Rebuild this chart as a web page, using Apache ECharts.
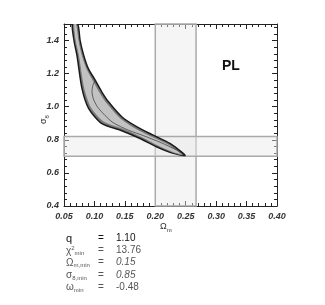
<!DOCTYPE html>
<html><head><meta charset="utf-8">
<script src="https://cdn.jsdelivr.net/npm/echarts@6/dist/echarts.min.js"></script>
<style>html,body{margin:0;padding:0;background:#fff}#c{width:325px;height:305px}</style>
</head><body><div id="c"></div>
<script>
// Outer contour (upper edge from top to tip, then lower edge back to top)
const outerOmega = [0.0725,0.0765,0.0824,0.090,0.1015,0.112,0.1234,0.1453,0.170,0.1967,0.224,0.249,
                    0.2296,0.202,0.175,0.145,0.1124,0.0906,0.0796,0.0714,0.0665,0.0637];
const outerSigma = [1.50,1.40,1.31,1.23,1.159,1.09,1.028,0.938,0.878,0.828,0.778,0.706,
                    0.718,0.758,0.808,0.855,0.898,0.989,1.109,1.309,1.40,1.50];
// Inner lighter contour
const innerOmega = [0.0705,0.0745,0.080,0.0875,0.0985,0.109,0.1205,0.1425,0.167,0.194,0.222,0.245,
                    0.229,0.203,0.177,0.147,0.115,0.0935,0.0825,0.0738,0.0685,0.066];
const innerSigma = [1.50,1.40,1.31,1.23,1.155,1.085,1.022,0.932,0.871,0.821,0.772,0.709,
                    0.723,0.765,0.815,0.864,0.908,0.996,1.112,1.31,1.40,1.50];
// Thin interior contour line
const lineOmega = [0.1015,0.0975,0.096,0.099,0.107,0.129,0.156,0.180,0.210,0.235,0.248];
const lineSigma = [1.16,1.13,1.088,1.04,0.989,0.908,0.858,0.826,0.782,0.738,0.707];
// Constraint bands
const omegaBand = [0.20, 0.267];
const sigmaBand = [0.70, 0.82];
// Axis ticks
const xMin = 0.05, xMax = 0.40, xStep = 0.05;
const yMin = 0.4, yMax = 1.5, yStep = 0.2;
// Fit results
const resultNames = ['q', 'χ{sup|2}{sub|min}', 'Ω{sub|m,min}', 'σ{sub|8,min}', 'ω{sub|min}'];
const resultValues = ['1.10', '13.76', '0.15', '0.85', '-0.48'];

const chart = echarts.init(document.getElementById('c'));
const font = 'Liberation Sans';
function poly(xs, ys){ return xs.map((x,i)=>[x, ys[i]]); }
function polyRender(pts, style, closed){
  return function(params, api){
    const points = pts.map(p => api.coord(p));
    return closed ? {type:'polygon', shape:{points, smooth:0.25}, style}
                  : {type:'polyline', shape:{points, smooth:0.25}, style};
  };
}
const axisCommon = {
  type:'value',
  axisLine:{lineStyle:{color:'#222', width:1}},
  axisTick:{inside:true, length:5, lineStyle:{color:'#222'}},
  minorTick:{show:true, splitNumber:5, length:3, lineStyle:{color:'#222'}},
  splitLine:{show:false}
};
const labelStyle = {fontFamily:font, fontSize:9, fontWeight:'bold', fontStyle:'italic', color:'#333'};

const graphics = [
  {type:'text', left:222, top:59, style:{text:'PL', font:'bold 14px "Liberation Sans"', fill:'#111'}},
  {type:'text', x:160, y:221, style:{text:'Ω{sub|m}', rich:{sub:{fontSize:6, padding:[6,0,0,0]}}, fontFamily:font, fontSize:9, fill:'#333'}},
  {type:'text', x:38, y:124, rotation:Math.PI/2, style:{text:'σ{sub|8}', rich:{sub:{fontSize:6, padding:[6,0,0,0]}}, fontFamily:font, fontSize:9, fill:'#333'}}
];
const rich = {sup:{fontSize:6, padding:[0,0,5,0], fill:'#555'}, sub:{fontSize:6, padding:[5,0,0,0], fill:'#555'}};
resultNames.forEach((n,i)=>{
  const y = 233 + i*12.3;
  const col = i===0 ? '#111' : '#555';
  graphics.push({type:'text', x:66, y:y, style:{text:n, rich, fontFamily:font, fontSize:i===0?11:10, fill:col}});
  graphics.push({type:'text', x:98, y:y, style:{text:'=', fontFamily:font, fontSize:10, fill:col}});
  graphics.push({type:'text', x:116, y:y, style:{text:resultValues[i], fontFamily:font, fontSize:10, fontStyle:(i===2||i===3)?'italic':'normal', fill:col}});
});

chart.setOption({
  animation:false,
  grid:{left:64, right:48, top:24, bottom:99},
  xAxis:[
    Object.assign({}, axisCommon, {min:xMin, max:xMax, interval:xStep, position:'bottom',
      axisLabel:Object.assign({margin:6, formatter:v=>v.toFixed(2)}, labelStyle)}),
    Object.assign({}, axisCommon, {min:xMin, max:xMax, interval:xStep, position:'top', axisLabel:{show:false}})
  ],
  yAxis:[
    Object.assign({}, axisCommon, {min:yMin, max:yMax, interval:yStep, position:'left',
      axisLabel:Object.assign({margin:5, showMaxLabel:false, formatter:v=>v.toFixed(1)}, labelStyle)}),
    Object.assign({}, axisCommon, {min:yMin, max:yMax, interval:yStep, position:'right', axisLabel:{show:false}})
  ],
  graphic:graphics,
  series:[
    {type:'custom', z:1, data:[[0,0]], renderItem:()=>({type:'group', children:[]}),
     markArea:{silent:true,
       itemStyle:{color:'rgba(232,232,232,0.45)', borderColor:'#aaa', borderWidth:1.5},
       data:[
         [{xAxis:omegaBand[0]},{xAxis:omegaBand[1]}],
         [{yAxis:sigmaBand[0]},{yAxis:sigmaBand[1]}]
       ]}},
    {type:'custom', z:3, data:[[0,0]], clip:true,
     renderItem:polyRender(poly(outerOmega,outerSigma), {fill:'#7c7c7c', stroke:'#1a1a1a', lineWidth:1.5}, true)},
    {type:'custom', z:4, data:[[0,0]], clip:true,
     renderItem:polyRender(poly(innerOmega,innerSigma), {fill:'#c2c2c2', stroke:'#666', lineWidth:0.7}, true)},
    {type:'custom', z:5, data:[[0,0]], clip:true,
     renderItem:polyRender(poly(lineOmega,lineSigma), {fill:null, stroke:'#333', lineWidth:0.7}, false)}
  ]
});
</script></body></html>
